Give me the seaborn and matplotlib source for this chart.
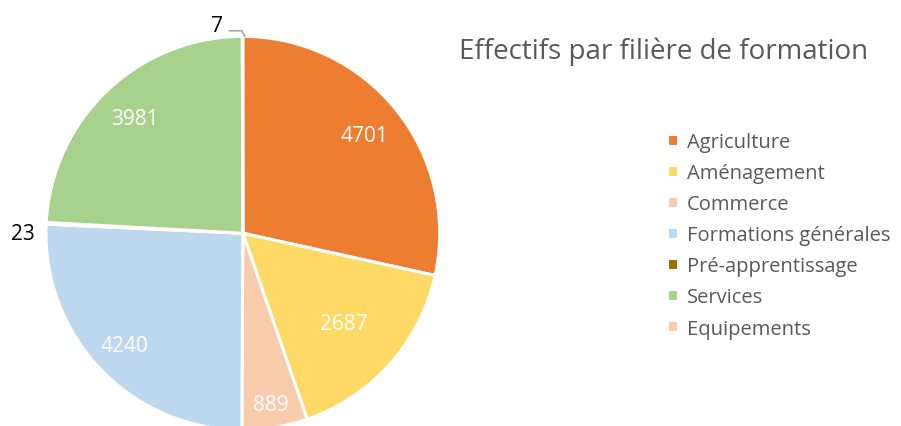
import numpy as np
import matplotlib
matplotlib.use("Agg")
import matplotlib.pyplot as plt
import seaborn as sns

# data
categories = ["Agriculture", "Aménagement", "Commerce", "Formations générales",
              "Pré-apprentissage", "Services", "Equipements"]
values = [4701, 2687, 889, 4240, 23, 3981, 7]
colors = ["#ED7D31", "#FFD966", "#F8CBAD", "#BDD7EE", "#997300", "#A9D18E", "#F8CBAD"]

sns.set_theme(style="white")
plt.rcParams['font.family'] = ['Open Sans', 'DejaVu Sans']

fig = plt.figure(figsize=(9.01, 4.27), dpi=100)
ax = fig.add_axes([0.051, -0.01, 0.437, 0.923])

wedges, _ = ax.pie(values, colors=sns.color_palette(colors), startangle=90, counterclock=False,
                   radius=1, wedgeprops=dict(edgecolor="white", linewidth=2.2))
ax.set_xlim(-1, 1)
ax.set_ylim(-1, 1)
ax.set_aspect("equal")

# inside labels (distance from centre tuned per slice, like Excel best fit)
dist = {0: 0.79, 1: 0.69, 2: 0.88, 3: 0.83, 5: 0.80}
for i, w in enumerate(wedges):
    ang = np.deg2rad((w.theta1 + w.theta2) / 2)
    if i in dist:
        r = dist[i]
        ax.text(r * np.cos(ang), r * np.sin(ang), str(values[i]), ha="center", va="center",
                color="white", fontsize=15)

# small slices: outside labels
ax.text(-1.055, 0.0, str(values[4]), ha="right", va="center", color="black", fontsize=15)

w = wedges[6]
ang = np.deg2rad((w.theta1 + w.theta2) / 2)
ax.annotate(str(values[6]), xy=(np.cos(ang) + 0.012, np.sin(ang)), xytext=(-0.1, 1.055),
            ha="right", va="center", color="black", fontsize=15, annotation_clip=False,
            arrowprops=dict(arrowstyle="-", color="#A6A6A6", lw=1.2, shrinkA=2, shrinkB=0,
                            relpos=(1.0, 0.25),
                            connectionstyle="angle,angleA=0,angleB=120,rad=0"))

fig.text(459 / 901, 1 - 52 / 427, "Effectifs par filière de formation", ha="left", va="center",
         color="#595959", fontsize=20)

fig.legend(wedges, categories, loc="upper left", bbox_to_anchor=(659 / 901, 1 - 125 / 427),
           frameon=False, fontsize=14.5, handlelength=0.55, handleheight=0.55,
           handletextpad=0.45, labelspacing=0.55, labelcolor="#595959", borderaxespad=0)

fig.savefig("out.png", dpi=100)
